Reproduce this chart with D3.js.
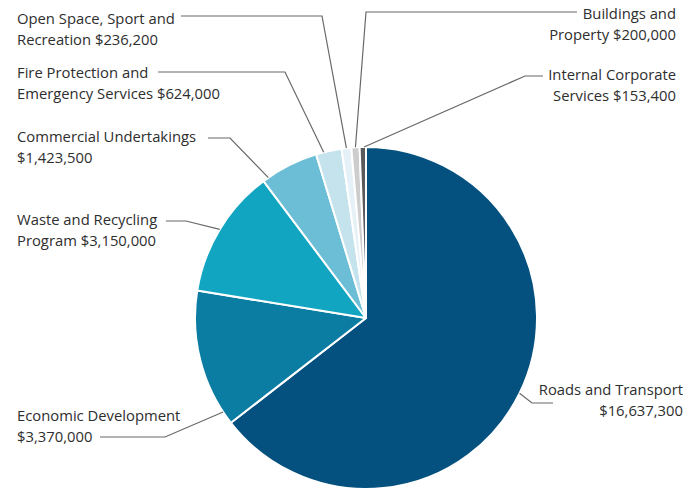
<!DOCTYPE html>
<html>
<head>
<meta charset="utf-8">
<script src="https://cdn.jsdelivr.net/npm/d3@7"></script>
<style>
  html, body { margin: 0; padding: 0; background: #ffffff; }
  svg { display: block; }
  text { font-family: "Open Sans", "Noto Sans", sans-serif; font-size: 14.8px; fill: #2e2e2e; }
</style>
</head>
<body>
<svg id="chart" width="689" height="489"></svg>
<script>
// Budget allocation by program area (dollars)
const programs = [
  "Roads and Transport",
  "Economic Development",
  "Waste and Recycling Program",
  "Commercial Undertakings",
  "Fire Protection and Emergency Services",
  "Open Space, Sport and Recreation",
  "Buildings and Property",
  "Internal Corporate Services"
];
const budgets = [16637300, 3370000, 3150000, 1423500, 624000, 236200, 200000, 153400];

// Label text, split into the two lines shown beside each slice
const labelLines = [
  ["Roads and Transport", "$16,637,300"],
  ["Economic Development", "$3,370,000"],
  ["Waste and Recycling", "Program $3,150,000"],
  ["Commercial Undertakings", "$1,423,500"],
  ["Fire Protection and", "Emergency Services $624,000"],
  ["Open Space, Sport and", "Recreation $236,200"],
  ["Buildings and", "Property $200,000"],
  ["Internal Corporate", "Services $153,400"]
];

const sliceColors = ["#04507f", "#0b7ca2", "#11a5c1", "#6bbed5", "#c4e3ed", "#e5f1f6", "#cdcdcd", "#5a5a5a"];

// Label placement: text anchor point, alignment, leader start/elbow,
// and where along the slice's arc the leader touches the pie (0..1)
const labelLayout = [
  { x: 683, y: 395, anchor: "end",   lead: [[553, 403], [532, 403]], at: 0.5 },
  { x: 17,  y: 421, anchor: "start", lead: [[100, 437], [165, 437]], at: 0.095 },
  { x: 17,  y: 225, anchor: "start", lead: [[166, 221], [186, 221]], at: 0.5 },
  { x: 17,  y: 142, anchor: "start", lead: [[208, 138], [230, 138]], at: 0.1 },
  { x: 17,  y: 78,  anchor: "start", lead: [[158, 72],  [285, 72]],  at: 0.3 },
  { x: 17,  y: 24,  anchor: "start", lead: [[181, 16],  [322, 16]],  at: 0.5 },
  { x: 676, y: 19,  anchor: "end",   lead: [[577, 12],  [366, 12]],  at: 0.5 },
  { x: 676, y: 80,  anchor: "end",   lead: [[543, 76],  [525, 76]],  at: 0.7 }
];
const lineGap = 20.5;

const svg = d3.select("#chart");
const cx = 366, cy = 318, radius = 171;

const pie = d3.pie().sort(null).value(d => d.value);
const arcs = pie(programs.map((p, i) => ({ name: p, value: budgets[i], i })));
const arc = d3.arc().innerRadius(0).outerRadius(radius);

const g = svg.append("g").attr("transform", `translate(${cx},${cy})`);

g.selectAll("path.slice")
  .data(arcs)
  .join("path")
  .attr("class", "slice")
  .attr("d", arc)
  .attr("fill", d => sliceColors[d.data.i])
  .attr("stroke", "#ffffff")
  .attr("stroke-width", 2)
  .attr("stroke-linejoin", "round");

// Leader lines from each label to its slice edge
const line = d3.line();
svg.selectAll("path.leader")
  .data(arcs)
  .join("path")
  .attr("class", "leader")
  .attr("fill", "none")
  .attr("stroke", "#686868")
  .attr("stroke-width", 1.2)
  .attr("d", d => {
    const L = labelLayout[d.data.i];
    const a = d.startAngle + (d.endAngle - d.startAngle) * L.at;
    const edge = [cx + radius * Math.sin(a), cy - radius * Math.cos(a)];
    return line([...L.lead, edge]);
  });

// Labels
const labels = svg.selectAll("text.label")
  .data(arcs)
  .join("text")
  .attr("class", "label")
  .attr("text-anchor", d => labelLayout[d.data.i].anchor);

labels.selectAll("tspan")
  .data(d => labelLines[d.data.i].map((t, k) => ({ t, k, L: labelLayout[d.data.i] })))
  .join("tspan")
  .attr("x", d => d.L.x)
  .attr("y", d => d.L.y + d.k * lineGap)
  .text(d => d.t);
</script>
</body>
</html>
